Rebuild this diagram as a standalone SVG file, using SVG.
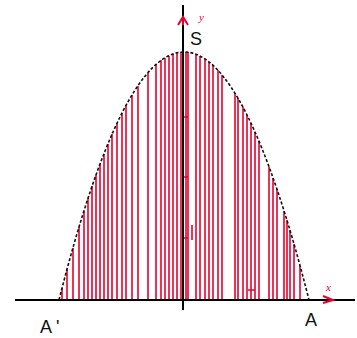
<svg xmlns="http://www.w3.org/2000/svg" width="357" height="338" viewBox="0 0 357 338">
<style>
.r{stroke:#e6002e;stroke-width:1.6;fill:none}
.ax{stroke:#000;stroke-width:2;fill:none}
.lbl{font-family:"Liberation Sans",Arial,sans-serif;font-size:18px;fill:#111}
.rl{font-family:"Liberation Serif","Times New Roman",serif;font-style:italic;font-size:11px;fill:#e6002e}
</style>
<rect width="357" height="338" fill="#fff"/>
<g id="strips" class="r">
<path d="M62,300V288 M67,300V269 M73,300V248 M79,300V227 M84,300V211 M88,300V198 M92,300V186 M96,300V175 M100,300V164 M104,300V154 M108,300V144 M112,300V134 M117,300V123 M122,300V113 M126,300V105 M132,300V95 M138,300V86 M148,300V73 M156,300V64 M161,300V60 M165,300V58 M169,300V56 M173,300V54 M177,300V53 M181,300V52"/>
<path d="M186,300V52 M188,300V52 M196,300V54 M200,300V56 M205,300V59 M209,300V62 M213,300V65 M218,300V70 M222,300V75 M235,300V93 M238,300V98 M243,300V107 M247,300V115 M251,300V123 M255,300V132 M259,300V141 M269,300V167 M273,300V178 M277,300V189 M284,300V211 M287,300V220 M290,300V230 M294,300V244 M300,300V266"/>
<path d="M183,117H188 M183,177H188 M183,238H188 M192,225V240 M248,290H255"/>
</g>
<g id="axes">
<path class="ax" d="M15,300H355"/>
<path class="ax" d="M183,5V310"/>
<path d="M178,25L183,17L188,25 M183,17V25" stroke="#e6002e" stroke-width="2" fill="none"/>
<path d="M323,296L333,300L323,303" stroke="#e6002e" stroke-width="2" fill="none"/>
<text class="rl" x="199" y="21">y</text>
<text class="rl" x="326" y="291">x</text>
</g>
<g id="curve">
<path d="M59,300Q184,-196 309,300" stroke="#111" stroke-width="1.6" stroke-dasharray="3 2" fill="none"/>
</g>
<g id="labels">
<text class="lbl" x="190" y="45">S</text>
<text class="lbl" x="40" y="333">A<tspan dx="4">'</tspan></text>
<text class="lbl" x="305" y="326">A</text>
</g>
</svg>
